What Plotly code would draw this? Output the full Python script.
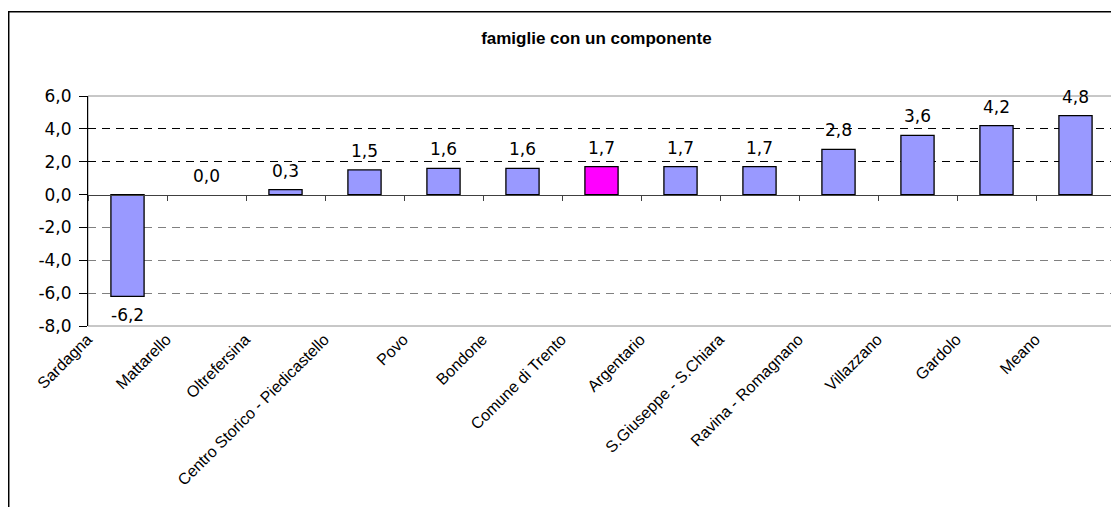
import plotly.graph_objects as go

categories = ["Sardagna", "Mattarello", "Oltrefersina", "Centro Storico - Piedicastello",
              "Povo", "Bondone", "Comune di Trento", "Argentario", "S.Giuseppe - S.Chiara",
              "Ravina - Romagnano", "Villazzano", "Gardolo", "Meano"]
values = [-6.2, 0.0, 0.3, 1.5, 1.6, 1.6, 1.7, 1.7, 1.7, 2.75, 3.6, 4.2, 4.8]
highlight = "Comune di Trento"
y_min, y_max = -8, 6
y_ticks = [-8, -6, -4, -2, 0, 2, 4, 6]
title_text = "famiglie con un componente"

BAR = "#9999FF"
HIL = "#FF00FF"
colors = [HIL if c == highlight else BAR for c in categories]
outline_w = [0 if v == 0 else 1.3 for v in values]


def fmt(v):
    return f"{v:.1f}".replace(".", ",")


fig = go.Figure()
fig.add_trace(go.Bar(
    x=categories, y=values,
    marker=dict(color=colors, line=dict(color="black", width=outline_w)),
    hoverinfo="skip", showlegend=False,
))
# empty helper traces so the overlay axes (zero axis ticks, grid lines) get drawn
fig.add_trace(go.Scatter(x=[None], y=[None], xaxis="x2", yaxis="y", showlegend=False, hoverinfo="skip"))
fig.add_trace(go.Scatter(x=[None], y=[None], xaxis="x", yaxis="y2", showlegend=False, hoverinfo="skip"))
fig.add_trace(go.Scatter(x=[None], y=[None], xaxis="x", yaxis="y3", showlegend=False, hoverinfo="skip"))

# data labels
for c, v in zip(categories, values):
    fig.add_annotation(
        x=c, y=v, text=fmt(v),
        showarrow=False, yanchor="middle", xanchor="center",
        yshift=19 if v >= 0 else -19,
        font=dict(family="DejaVu Sans", size=17, color="black"),
    )

n = len(categories)
pos_grid = [t for t in y_ticks if 0 < t < y_max]
neg_grid = [t for t in y_ticks if y_min < t < 0]

fig.update_layout(
    width=1111, height=499,
    margin=dict(l=80, r=4, t=88, b=181),
    paper_bgcolor="white", plot_bgcolor="white",
    separators=",.",
    bargap=0.58,
    title=dict(text="<b>" + title_text + "</b>", x=0.495, xref="paper", xanchor="center",
               y=1 - 30 / 499, yanchor="middle",
               font=dict(family="Liberation Sans", size=17, color="black")),
    xaxis=dict(
        type="category", categoryorder="array", categoryarray=categories,
        range=[-0.5, n - 0.5],
        tickangle=-45, ticks="", showgrid=False, showline=False, zeroline=False,
        tickfont=dict(family="Liberation Sans", size=16, color="black"),
        ticklabelshift=-40,
    ),
    xaxis2=dict(
        overlaying="x", anchor="free", position=(0 - y_min) / (y_max - y_min),
        range=[-0.5, n - 0.5], tickvals=[i - 0.5 for i in range(n + 1)],
        ticks="outside", ticklen=5, tickcolor="#404040", tickwidth=1,
        showticklabels=False, showgrid=False, zeroline=False,
        showline=True, linecolor="#404040", linewidth=1,
    ),
    yaxis=dict(
        range=[y_min, y_max], tickvals=y_ticks, ticktext=[fmt(t) for t in y_ticks],
        ticks="outside", ticklen=8, tickcolor="black", ticklabelstandoff=4,
        showline=True, linecolor="black", linewidth=1,
        showgrid=False, zeroline=False,
        tickfont=dict(family="DejaVu Sans", size=17, color="black"),
    ),
    yaxis2=dict(
        overlaying="y", range=[y_min, y_max], tickvals=pos_grid,
        showticklabels=False, ticks="", showline=False, zeroline=False,
        showgrid=True, gridcolor="black", gridwidth=1, griddash="8px,6px",
    ),
    yaxis3=dict(
        overlaying="y", range=[y_min, y_max], tickvals=neg_grid,
        showticklabels=False, ticks="", showline=False, zeroline=False,
        showgrid=True, gridcolor="#808080", gridwidth=1, griddash="8px,6px",
    ),
)

# plot-area frame (gray) and outer chart border (black)
fig.add_shape(type="rect", xref="paper", yref="paper", x0=0, x1=1, y0=0, y1=1,
              line=dict(color="#909090", width=1), layer="below")
fig.add_shape(type="rect", xref="paper", yref="paper", x0=-0.0772, x1=1.05, y0=-0.9, y1=1.366,
              line=dict(color="black", width=1.5), layer="below")

fig.write_html("out.html")
